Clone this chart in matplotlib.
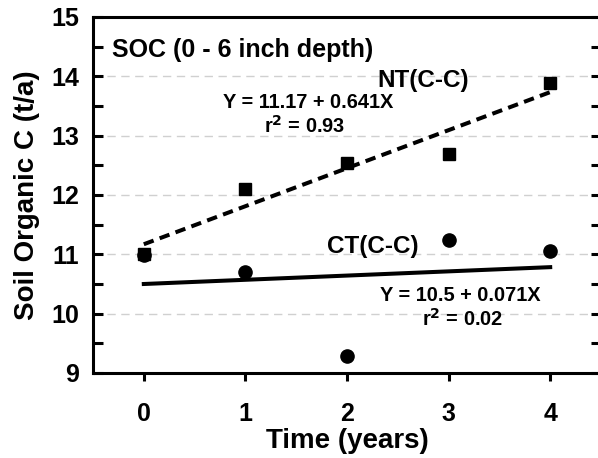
import numpy as np
import matplotlib
matplotlib.use("Agg")
import matplotlib.pyplot as plt

plt.rcParams['font.family'] = ['Liberation Sans', 'DejaVu Sans']
plt.rcParams['font.weight'] = 'bold'

years = [0, 1, 2, 3, 4]
nt_soc = [11.0, 12.1, 12.54, 12.69, 13.89]
ct_soc = [10.99, 10.71, 9.28, 11.25, 11.06]
nt_fit = (11.17, 0.641)
ct_fit = (10.5, 0.071)

fig = plt.figure(figsize=(5.98, 4.58), dpi=100)
ax = fig.add_axes([93/598, 1 - 373/458, 508/598, 356/458])

ax.set_xlim(-0.5, 4.5)
ax.set_ylim(9, 15)

for yv in range(10, 15):
    ax.axhline(yv, color="#d0d0d0", lw=1, ls=(0, (6, 4)), zorder=0)

xf = np.array([years[0], years[-1]])
ax.plot(xf, nt_fit[0] + nt_fit[1]*xf, color="black", lw=2.9, ls=(0, (2.6, 1.6)), zorder=2)
ax.plot(xf, ct_fit[0] + ct_fit[1]*xf, color="black", lw=2.9, zorder=2)

ax.plot(years, nt_soc, ls="none", marker="s", ms=8, color="black", zorder=3)
ax.plot(years, ct_soc, ls="none", marker="o", ms=9.5, color="black", zorder=4)

ax.text(0.037, 0.888, "SOC (0 - 6 inch depth)", transform=ax.transAxes,
        fontsize=18, fontweight="bold", va="baseline", ha="left")
ax.text(2.75, 13.82, "NT(C-C)", fontsize=17.5, fontweight="bold", ha="center", va="baseline")
ax.text(1.62, 13.47, "Y = 11.17 + 0.641X", fontsize=14.4, fontweight="bold", ha="center", va="baseline")
ax.text(1.58, 13.04, "r$^\\mathbf{2}$ = 0.93", fontsize=14.4, fontweight="bold", ha="center", va="baseline")
ax.text(2.25, 11.02, "CT(C-C)", fontsize=17.5, fontweight="bold", ha="center", va="baseline")
ax.text(3.12, 10.22, "Y = 10.5 + 0.071X", fontsize=14.4, fontweight="bold", ha="center", va="baseline")
ax.text(3.14, 9.79, "r$^\\mathbf{2}$ = 0.02", fontsize=14.4, fontweight="bold", ha="center", va="baseline")

for s in ax.spines.values():
    s.set_linewidth(2.2)

ax.set_xticks(years)
ax.set_yticks(range(9, 16))
ax.set_yticks(np.arange(9.5, 15, 1.0), minor=True)
ax.tick_params(axis="y", which="both", direction="in", left=True, right=True,
               length=7, width=2.2, labelsize=18, pad=10)
ax.tick_params(axis="x", which="major", direction="out", length=6, width=2.2,
               labelsize=18, pad=15)
ax.tick_params(axis="x", which="minor", bottom=False)
for lab in ax.get_xticklabels() + ax.get_yticklabels():
    lab.set_fontweight("bold")

ax.set_xlabel("Time (years)", fontsize=20, fontweight="bold", labelpad=1)
ax.set_ylabel("Soil Organic C (t/a)", fontsize=20, fontweight="bold", labelpad=8)

fig.savefig("out.png", dpi=100)
